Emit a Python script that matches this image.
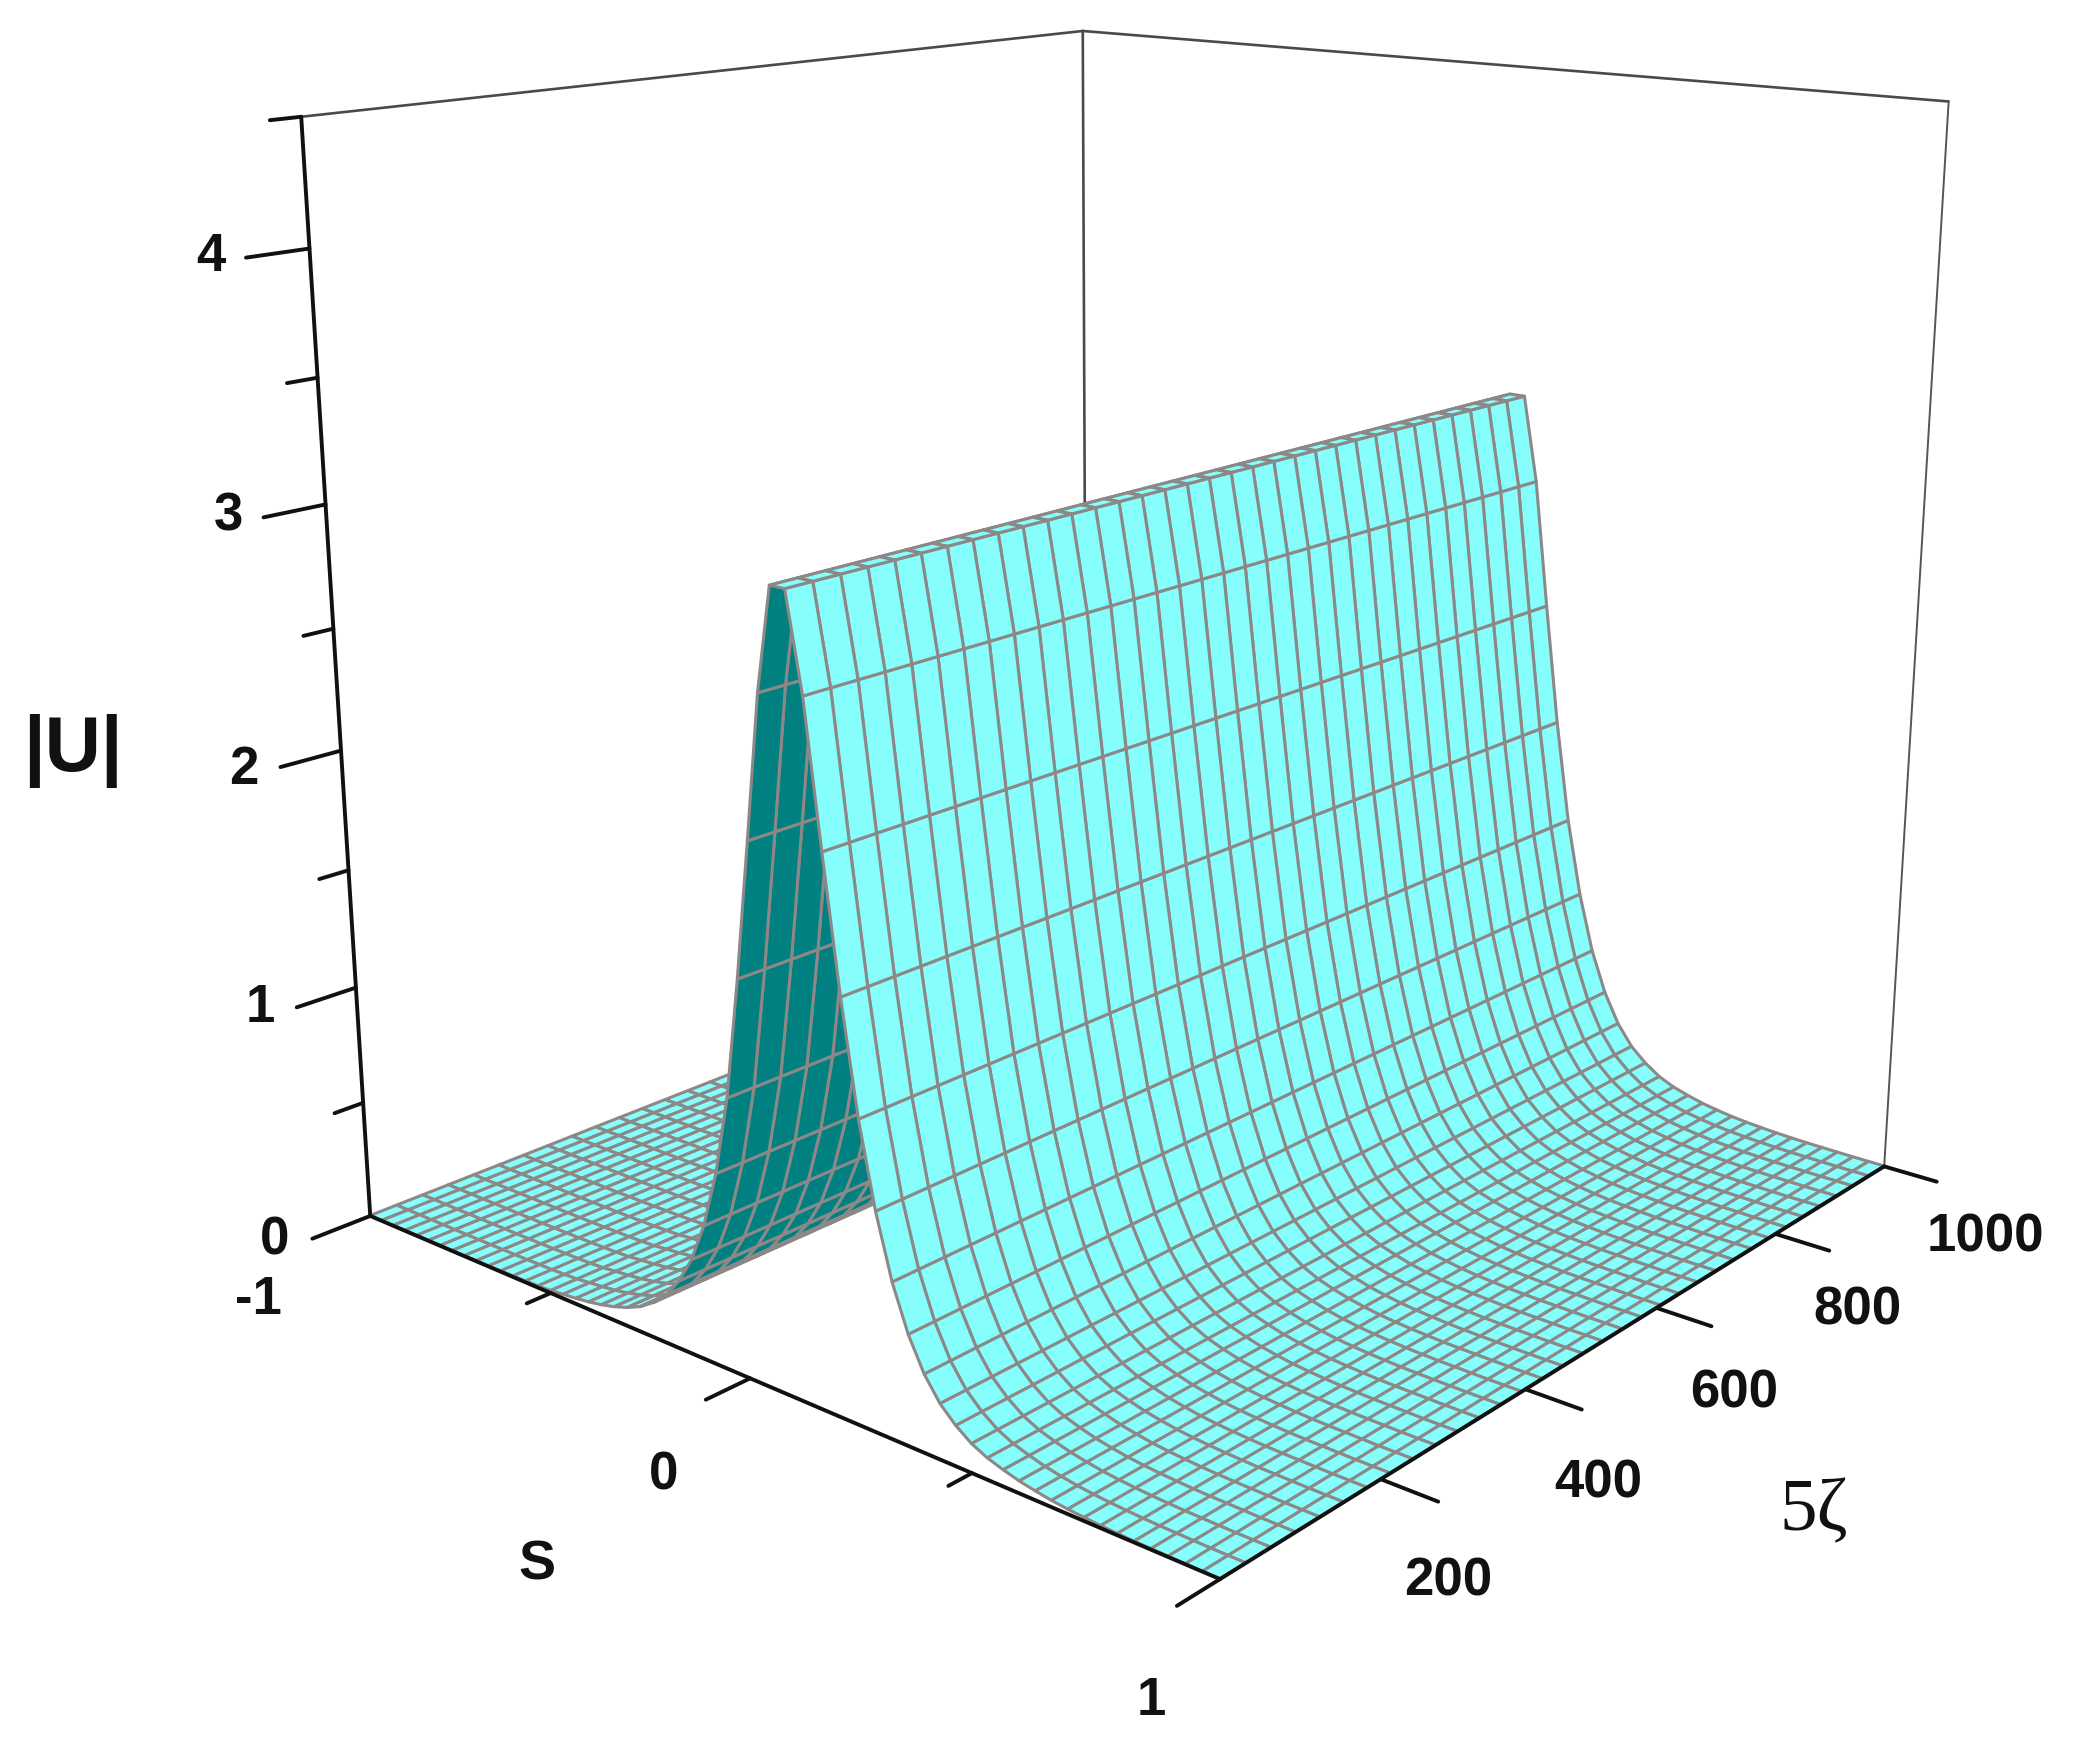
import numpy as np, seaborn as sns, matplotlib
matplotlib.use("Agg")
import matplotlib.pyplot as plt
from matplotlib.colors import to_rgba

sns.set_theme(style="white")

# ---- data ----
# |U| across s (s = -1 ... 1, 61 stations), the ridge is stationary along 5zeta
U_left = [0.002, 0.002, 0.002, 0.002, 0.002, 0.002, 0.002, 0.002, 0.002, 0.003,
          0.003, 0.004, 0.005, 0.006, 0.008, 0.011, 0.018, 0.024, 0.032, 0.043,
          0.058, 0.078, 0.105, 0.145, 0.200, 0.280, 0.390, 0.550, 0.780, 1.100,
          1.580, 2.120, 2.680]
U_peak = [3.080, 3.080]
U_right = [2.710, 2.160, 1.640, 1.200, 0.870, 0.620, 0.440, 0.310, 0.220, 0.160,
           0.115, 0.085, 0.065, 0.048, 0.036, 0.026, 0.019, 0.014, 0.010, 0.007,
           0.005, 0.004, 0.003, 0.002, 0.002, 0.002]
S_LIM = [-1, 1]
ZETA_LIM = [0, 1000]
U_LIM = [0, 4.5]
N_ZETA_CELLS = 33
S_MAJOR = [-1, 0, 1]
S_MINOR = [-0.5, 0.5]
ZETA_TICKS = [200, 400, 600, 800, 1000]
U_MAJOR = [0, 1, 2, 3, 4]
U_MINOR = [0.5, 1.5, 2.5, 3.5, 4.5]

TOP = '#86FFFC'
UNDER = '#008080'
GRID = '#8C8888'

profile = np.array(U_left + U_peak + U_right)
s = np.linspace(S_LIM[0], S_LIM[1], profile.size)
zeta = np.linspace(ZETA_LIM[0], ZETA_LIM[1], N_ZETA_CELLS + 1)
SS, ZZ = np.meshgrid(s, zeta)
UU = np.tile(profile, (zeta.size, 1))

# cells seen from below (rising flank facing away from the viewer)
rise = np.diff(profile) / np.diff(s)
under = rise > 2.3
cols = np.empty((zeta.size, s.size, 4))
cols[:] = to_rgba(TOP)
for i, flag in enumerate(under):
    if flag:
        cols[:, i] = to_rgba(UNDER)

W, H = 2080, 1750
fig = plt.figure(figsize=(W / 100, H / 100), dpi=100, facecolor='white')
ax = fig.add_axes([0.08312, 0.06318, 0.90509, 1.07577], projection='3d')
ax.set_xlim(*S_LIM, view_margin=0)
ax.set_ylim(*ZETA_LIM, view_margin=0)
ax.set_zlim(*U_LIM, view_margin=0)
ax.view_init(elev=15.562, azim=-49.704)
ax.set_box_aspect((1.0004, 0.9961, 1), zoom=1)
ax.set_proj_type('persp', focal_length=0.3501)
ax.set_axis_off()
ax.patch.set_alpha(0)

ax.plot_surface(SS, ZZ, UU, facecolors=cols[:-1, :-1], rstride=1, cstride=1, shade=False,
                edgecolor=GRID, linewidth=2.2, antialiased=True)

s0, s1 = S_LIM
z0, z1 = ZETA_LIM
u0, u1 = U_LIM
# frame (behind the surface)
thin = dict(color='#4a4a4a', lw=1.9, zorder=1)
ax.plot([s0, s0], [z0, z1], [u1, u1], **thin)
ax.plot([s0, s1], [z1, z1], [u1, u1], **thin)
ax.plot([s0, s0], [z1, z1], [u0, u1], **thin)
ax.plot([s1, s1], [z1, z1], [u0, u1], color='#555555', lw=1.4, zorder=1)
axis = dict(color='#111111', lw=2.8, zorder=60)
ax.plot([s0, s0], [z0, z0], [u0, u1], **axis)
ax.plot([s0, s1], [z0, z0], [u0, u0], **axis)
ax.plot([s1, s1], [z0, z1], [u0, u0], **axis)
# ticks
for v in U_MAJOR:
    ax.plot([s0, s0], [z0, -65], [v, v], **axis)
for v in U_MINOR:
    ax.plot([s0, s0], [z0, -32], [v, v], **axis)
for v in S_MAJOR[1:]:
    ax.plot([v, v], [z0, -50], [u0, u0], **axis)
for v in S_MINOR:
    ax.plot([v, v], [z0, -27], [u0, u0], **axis)
for v in ZETA_TICKS:
    ax.plot([s1, s1 + 0.11], [v, v], [u0, u0], **axis)

# ---- text (positions in the 1568x1319 view of the picture) ----
def put(x, y, t, size=38, **kw):
    kw.setdefault('family', ['Liberation Sans', 'DejaVu Sans'])
    kw.setdefault('fontweight', 'bold')
    fig.text(x / 1568, 1 - y / 1319, t, fontsize=size, ha='center', va='center',
             color='#111111', **kw)

for v, x, y in zip(U_MAJOR[::-1], [159, 172, 184, 196, 207], [194, 389, 580, 760, 935]):
    put(x, y, str(v))
put(195, 980, str(S_MAJOR[0]))
put(500, 1112, str(S_MAJOR[1]))
put(868, 1282, str(S_MAJOR[2]))
for v, x, y in zip(ZETA_TICKS, [1092, 1205, 1307, 1400, 1497], [1192, 1118, 1050, 988, 933]):
    put(x, y, str(v))
put(405, 1180, 'S', size=40)
put(55, 566, '|U|', size=56)
put(1367, 1140, '5ζ', size=54, family=['Liberation Serif', 'DejaVu Serif'], fontweight='normal')

fig.savefig('out.png', dpi=100)
